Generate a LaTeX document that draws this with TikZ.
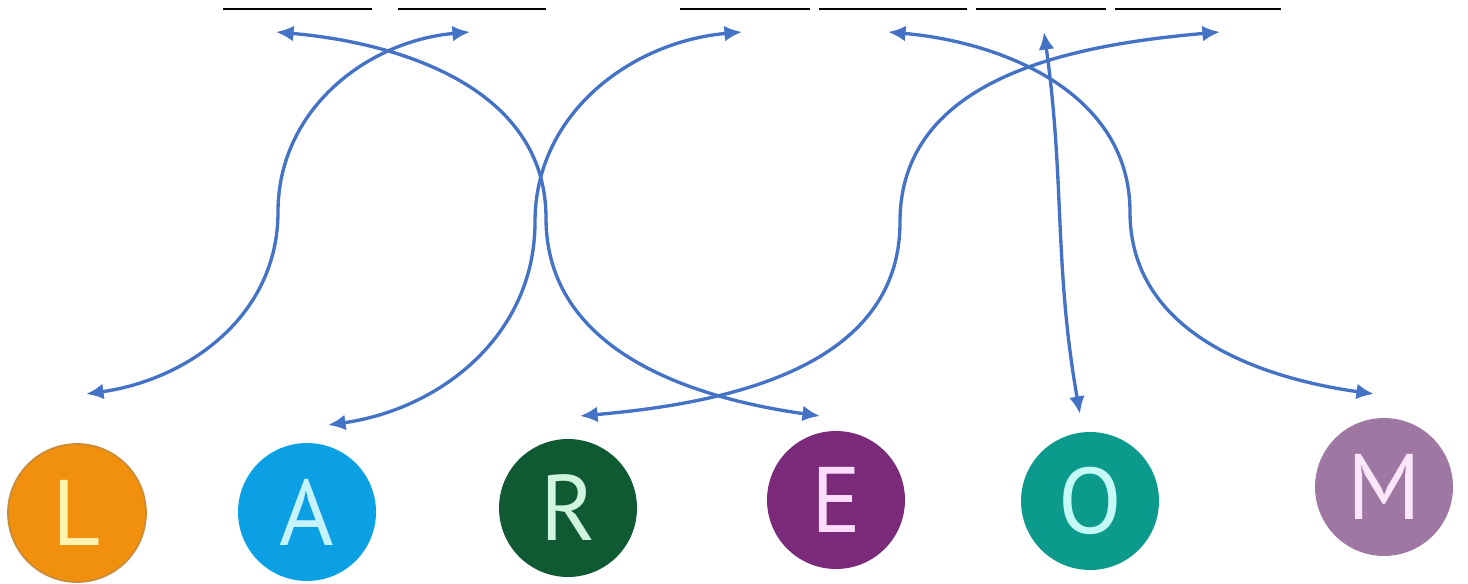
\documentclass[tikz,border=0pt]{standalone}
\usepackage{fontspec}
\setsansfont{PT Sans}
\usetikzlibrary{arrows.meta}
\definecolor{linkblue}{HTML}{4472C4}
\definecolor{lfill}{HTML}{F0900C}
\definecolor{lrim}{HTML}{C98B3A}
\definecolor{ltext}{HTML}{FFF3B0}
\definecolor{afill}{HTML}{0B9FE3}
\definecolor{atext}{HTML}{C5F3FF}
\definecolor{rfill}{HTML}{0F5A32}
\definecolor{rtext}{HTML}{CFF5E0}
\definecolor{efill}{HTML}{7B2A7A}
\definecolor{etext}{HTML}{FCDDFB}
\definecolor{ofill}{HTML}{0B9A8C}
\definecolor{otext}{HTML}{C4FAF5}
\definecolor{mfill}{HTML}{9E77A3}
\definecolor{mtext}{HTML}{FBE6FB}

\begin{document}
\begin{tikzpicture}[x=0.02cm, y=-0.02cm, every node/.style={circle, minimum size=2.76cm, inner sep=0pt, font=\sffamily\fontsize{53}{53}\selectfont},
	link/.style={linkblue, line width=1.9pt, {Latex[length=10pt,width=9pt]}-{Latex[length=10pt,width=9pt]}},
	blank/.style={black, line width=1.5pt}]
			\useasboundingbox (0,0) rectangle (1468,584);
			\node[fill=lfill, draw=lrim, line width=1pt, text=ltext](L) at (77,513) {L};
			\node[fill=afill, text=atext](A) at (307,512) {A};
			\node[fill=rfill, text=rtext](R) at (568,508) {R};
			\node[fill=efill, text=etext](E) at (836,500) {E};
			\node[fill=ofill, text=otext](O) at (1090,501) {O};
			\node[fill=mfill, text=mtext](M) at (1384,487) {M};
			\draw[blank] (223,9) -- (372,9);
			\draw[blank] (398,9) -- (546,9);
			\draw[blank] (680,9) -- (810,9);
			\draw[blank] (819,9) -- (967,9);
			\draw[blank] (976,9) -- (1106,9);
			\draw[blank] (1115,9) -- (1281,9);
			\coordinate (b1) at (276,32);
			\coordinate (b2) at (470,32);
			\coordinate (b3) at (742,32);
			\coordinate (b4) at (888,32);
			\coordinate (b5) at (1044,32);
			\coordinate (b6) at (1220,32);
			\coordinate (pL) at (86,394);
			\coordinate (pA) at (328,425);
			\coordinate (pR) at (580,416);
			\coordinate (pE) at (820,416);
			\coordinate (pO) at (1080,414);
			\coordinate (pM) at (1374,394);
			\draw[link] (b1) to[out=-5,in=90] (546,218) to[out=-90,in=172] (pE);
			\draw[link] (b2) to[out=185,in=90] (278,212) to[out=-90,in=8] (pL);
			\draw[link] (b3) to[out=185,in=90] (535,222) to[out=-90,in=8] (pA);
			\draw[link] (b4) to[out=-5,in=90] (1130,212) to[out=-90,in=172] (pM);
			\draw[link] (b5) to[out=-82,in=100] (pO);
			\draw[link] (b6) to[out=185,in=90] (900,222) to[out=-90,in=5] (pR);
		\end{tikzpicture}
\end{document}
